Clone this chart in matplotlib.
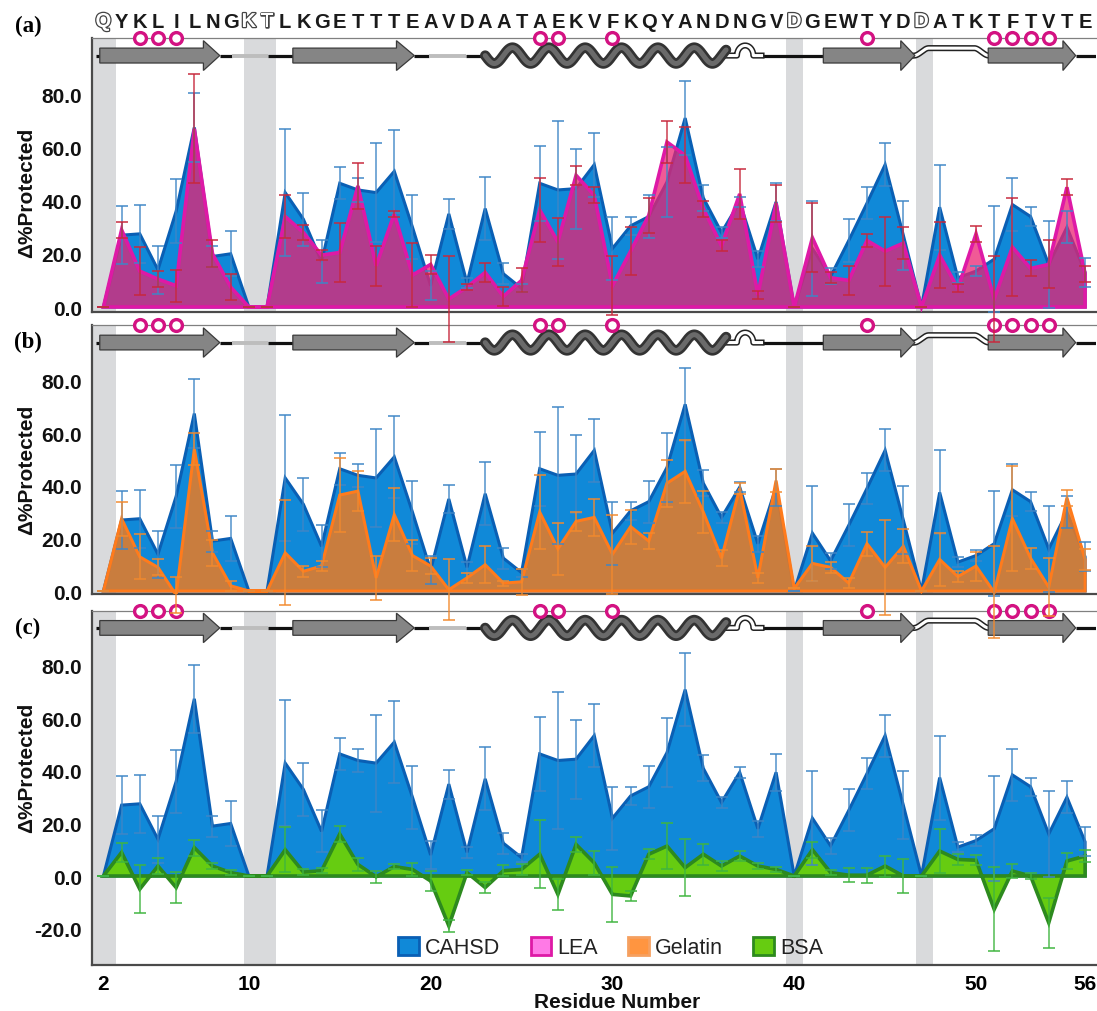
import numpy as np
import matplotlib
matplotlib.use("Agg")
import matplotlib.pyplot as plt
from matplotlib.patches import Polygon, Patch
import matplotlib.patheffects as pe

plt.rcParams['font.family'] = ['Liberation Sans', 'DejaVu Sans']

# residues 2..56
residues = np.arange(2, 57)
sequence = "QYKLILNGKTLKGETTTEAVDAATAEKVFKQYANDNGVDGEWTYDDATKTFTVTE"
hollow_residues = [2, 10, 11, 40, 47]
circle_residues = [4, 5, 6, 26, 27, 30, 44, 51, 52, 53, 54]
gray_bands = [(1.35, 2.7), (9.72, 11.5), (39.53, 40.5), (46.68, 47.63)]

cahsd = [0, 27, 27.5, 14, 36, 67.5, 19, 20, 0, 0,
         43, 33, 17, 46.5, 44, 43, 51, 30, 8, 35,
         9, 37, 12.5, 7, 46.5, 44, 44.5, 53.5, 22, 30.5,
         34, 47, 71, 41, 28, 39.5, 18, 39.5, 0, 22,
         11.5, 25, 39, 53.5, 27, 0, 37.5, 11, 13.5, 18,
         38.5, 34, 16, 30, 13]
cahsd_err = [0, 11, 11, 9, 12, 13, 4, 8.5, 0, 0,
             24, 10, 8, 6, 4.5, 18.5, 15.5, 12, 5.5, 5.5,
             2, 12, 4, 1.5, 14, 26, 15, 12, 12, 3.5,
             8, 13, 14, 5, 2, 2, 3, 7, 0, 18,
             3, 8, 6, 8, 13, 0, 16, 2, 2, 20,
             10, 3.5, 16.5, 6, 5.5]

lea = [0, 29, 13.5, 10.5, 8, 67, 20, 7.5, 0, 0,
       34, 28, 19.5, 20.5, 45.5, 15.5, 35, 12, 16, 3,
       7.5, 13, 4, 10, 36.5, 24.5, 49.5, 42, 8, 21,
       34.5, 62, 57, 37, 23, 42.5, 4.5, 39, 0, 26,
       11, 10, 25, 21, 24, 0, 19.5, 7, 27.5, 3,
       22.5, 14.5, 16, 45, 12.5]
lea_err = [0, 3, 9, 3, 6, 20.5, 5, 5, 0, 0,
           8, 3, 2, 11, 8.5, 7.5, 1, 12, 3.5, 16,
           1, 3.5, 3.5, 4.5, 12, 9, 3.5, 3, 11, 9,
           6.5, 8, 10.5, 3, 2, 9.5, 1.5, 7, 0, 13,
           2, 5.5, 2.5, 13, 6, 0, 12.5, 1.5, 3, 16,
           18.5, 3, 9, 3, 3]

gelatin = [0, 27.5, 13, 9, -1.5, 54, 14.5, 2, 0, 0,
           14.5, 7.5, 9.5, 36.5, 38, 5, 29, 13.5, 9.5, 0.5,
           5, 10, 3, 3.5, 30, 16, 26.5, 28, 14, 24.5,
           19, 41, 45.5, 30, 12.5, 39, 5, 42, 1, 10.5,
           9, 3, 18, 9, 17, 0, 12, 5.5, 9.5, -0.5,
           27.5, 12.5, 1.5, 35.5, 12]
gelatin_err = [0, 6.5, 8.5, 3, 7, 6, 5, 2, 0, 0,
               20, 2, 2, 14, 7.5, 8.5, 10, 6, 3, 11.5,
               2, 7, 1, 5, 14, 10, 3.5, 7, 15, 6.5,
               3, 9, 12, 8, 3, 2, 2, 4.5, 0, 6.5,
               2, 2, 4.5, 18, 6.5, 0, 10, 2, 5.5, 17.5,
               20, 4, 11, 3, 4]

bsa = [0, 9, -5, 3.8, -4.4, 10.8, 3.8, 1.3, 0, 0,
       10, 1.5, 2, 16, 4.4, -0.3, 3.6, 2.5, -1.9, -19,
       1.3, -4.4, 2, 2.5, 8.3, -7, 12, 5, -7, -7.6,
       8.3, 11.4, 3.2, 8.3, 3.8, 7.6, 3.8, 2.5, 0, 10,
       1.3, 0.3, 0.3, 3.8, 0, 0, 9.5, 6.3, 6, -12.7,
       1.9, 0, -17.8, 5.7, 7.6]
bsa_err = [0, 3.5, 9, 3, 6, 3, 1, 1, 0, 0,
           8.5, 1, 1, 3, 2.5, 2.2, 1, 2.5, 3.8, 2.3,
           1, 2, 2, 2, 13, 6, 3, 4.5, 10.5, 2,
           2, 8.7, 11, 4, 2, 2, 1, 1, 0, 3,
           1, 2.6, 2.8, 4, 6.6, 0, 8.3, 2, 2, 16,
           2.5, 1, 9.5, 3, 2.4]

# secondary structure (residue positions)
strands = [(1.8, 7.5, 8.4), (12.42, 18.12, 19.1), (41.6, 45.86, 46.64), (50.67, 54.78, 55.48)]
black_links = [(1.6, 1.8), (8.4, 9.08), (11.05, 12.42), (19.1, 19.9), (21.95, 23.0), (38.2, 41.6), (55.48, 57.5)]
gray_links = [(9.08, 11.05), (19.9, 21.95)]
helix = (23.0, 36.25)

XMIN, XMAX = 1.35, 56.6

def draw_structure(ax, ytop):
    c = 94.5
    for x0, x1 in black_links:
        ax.plot([x0, x1], [c, c], color='#111111', lw=2.3, solid_capstyle='butt', zorder=6)
    for x0, x1 in gray_links:
        ax.plot([x0, x1], [c, c], color='#bdbdbd', lw=2.8, solid_capstyle='butt', zorder=6)
    for x0, x1, tip in strands:
        pts = [(x0, c - 2.8), (x1, c - 2.8), (x1, c - 5.6), (tip, c),
               (x1, c + 5.6), (x1, c + 2.8), (x0, c + 2.8)]
        ax.add_patch(Polygon(pts, closed=True, fc='#858585', ec='#3a3a3a', lw=0.9, zorder=7))
    hx = np.linspace(helix[0], helix[1], 600)
    hy = c - 3.0 * np.sin(np.pi * (hx - helix[0]))
    ax.plot(hx, hy, color='#333333', lw=7.5, solid_capstyle='round', zorder=7)
    ax.plot(hx, hy, color='#6a6a6a', lw=3.6, solid_capstyle='round', zorder=7)
    # loop after helix with small bump
    lx = np.linspace(36.25, 38.2, 300)
    ly = c + 3.8 * np.sqrt(np.clip(1 - ((lx - 37.3) / 0.45) ** 2, 0, None))
    ax.plot(lx, ly, color='#222222', lw=4.4, zorder=6)
    ax.plot(lx, ly, color='white', lw=2.2, zorder=6)
    # arch loop between last two strands
    ax2x = np.linspace(46.6, 50.7, 300)
    s1 = np.clip((ax2x - 46.6) / 0.8, 0, 1)
    s2 = np.clip((ax2x - 49.9) / 0.8, 0, 1)
    ax2y = c + 2.8 * ((3 * s1**2 - 2 * s1**3) - (3 * s2**2 - 2 * s2**3))
    ax.plot(ax2x, ax2y, color='#222222', lw=4.4, zorder=6)
    ax.plot(ax2x, ax2y, color='white', lw=2.2, zorder=6)
    # circles on the top line
    ax.plot(circle_residues, [ytop] * len(circle_residues), 'o', ms=8.5, mfc='white',
            mec='#d31282', mew=2.4, clip_on=False, zorder=12)


def area(ax, vals, fc, ec, lw, z):
    xs = np.r_[residues[0], residues, residues[-1]]
    ys = np.r_[0, vals, 0]
    ax.fill(xs, ys, facecolor=fc, edgecolor=ec, lw=lw, zorder=z, joinstyle='miter')


def bars(ax, vals, errs, color, z):
    eb = ax.errorbar(residues, vals, yerr=errs, fmt='none', ecolor=color, elinewidth=1.1,
                     capsize=4.5, capthick=1.2, zorder=z, alpha=0.9)
    for child in eb.get_children():
        child.set_clip_on(False)


def setup(ax, ymin, ymax, yt):
    ax.set_xlim(XMIN, XMAX)
    ax.set_ylim(ymin, ymax)
    for x0, x1 in gray_bands:
        ax.axvspan(x0, x1, color='#d9dadc', lw=0, zorder=0.5)
    ax.spines['right'].set_visible(False)
    ax.spines['top'].set_color('#808080')
    ax.spines['top'].set_linewidth(0.9)
    for s in ['left', 'bottom']:
        ax.spines[s].set_color('#4a4a4a')
        ax.spines[s].set_linewidth(1.6)
    ax.set_yticks(yt)
    ax.set_yticklabels([f"{v:.1f}" for v in yt], fontsize=15, fontweight='bold', color='#111111')
    ax.tick_params(axis='y', length=0, pad=7)
    ax.set_xticks([])
    draw_structure(ax, ymax)


fig = plt.figure(figsize=(10.97, 10.12), dpi=100)
ax_a = fig.add_axes([0.0835, 0.6909, 0.9156, 0.2703], zorder=3)
ax_b = fig.add_axes([0.0835, 0.4124, 0.9156, 0.2650], zorder=2)
ax_c = fig.add_axes([0.0835, 0.0452, 0.9156, 0.3502], zorder=1)

blue_fc, blue_ec, blue_bar = '#1089d8', '#0a5fb4', '#3f86c6'

setup(ax_a, -1.8, 101, [0, 20, 40, 60, 80])
area(ax_a, cahsd, blue_fc, blue_ec, 2.2, 2)
area(ax_a, lea, (235/255, 34/255, 114/255, 0.745), '#de19a6', 2.6, 3)
bars(ax_a, cahsd, cahsd_err, blue_bar, 4)
bars(ax_a, lea, lea_err, '#c8283c', 5)

setup(ax_b, -1.0, 101, [0, 20, 40, 60, 80])
area(ax_b, cahsd, blue_fc, blue_ec, 2.2, 2)
area(ax_b, gelatin, (235/255, 123/255, 35/255, 0.85), '#ff7b1c', 2.2, 3)
bars(ax_b, cahsd, cahsd_err, blue_bar, 4)
bars(ax_b, gelatin, gelatin_err, '#f28a2e', 5)

setup(ax_c, -34, 101, [-20, 0, 20, 40, 60, 80])
area(ax_c, cahsd, blue_fc, blue_ec, 2.2, 2)
area(ax_c, bsa, '#66cc11', '#2d8a1e', 2.6, 3)
bars(ax_c, cahsd, cahsd_err, blue_bar, 4)
bars(ax_c, bsa, bsa_err, '#3fb53f', 5)
ax_c.set_xticks([2, 10, 20, 30, 40, 50, 56])
ax_c.set_xticklabels(['2', '10', '20', '30', '40', '50', '56'], fontsize=15, fontweight='bold')
ax_c.tick_params(axis='x', length=0, pad=6)

# sequence on top
for r, letter in zip(residues, sequence):
    if r in hollow_residues:
        ax_a.text(r, 107.3, letter, ha='center', va='center', fontsize=14.5, fontweight='bold',
                  color='white', clip_on=False,
                  path_effects=[pe.withStroke(linewidth=1.8, foreground='#444444')])
    else:
        ax_a.text(r, 107.3, letter, ha='center', va='center', fontsize=14.5, fontweight='bold',
                  color='#1a1a1a', clip_on=False)

# panel labels and axis labels
W, H = 1097, 1012
for lab, y in [('(a)', 26), ('(b)', 342), ('(c)', 628)]:
    fig.text(28 / W, 1 - y / H, lab, ha='center', va='center', fontsize=16.5,
             fontweight='bold', family='Liberation Serif')
for y in [193, 470, 768]:
    fig.text(27 / W, 1 - y / H, 'Δ%Protected', rotation=90, ha='center', va='center',
             fontsize=15, fontweight='bold', color='#111111')
fig.text(617 / W, 1 - 1003 / H, 'Residue Number', ha='center', va='center',
         fontsize=15, fontweight='bold', color='#111111')

handles = [Patch(facecolor=blue_fc, edgecolor=blue_ec, lw=2),
           Patch(facecolor='#ff7ae6', edgecolor='#de19a6', lw=2),
           Patch(facecolor='#ff9540', edgecolor='#f5a060', lw=2),
           Patch(facecolor='#66cc11', edgecolor='#2d8a1e', lw=2)]
leg = ax_c.legend(handles, ['CAHSD', 'LEA', 'Gelatin', 'BSA'], ncol=4, loc='center',
                  bbox_to_anchor=(0.517, 0.05), frameon=False, fontsize=15.5,
                  handlelength=0.95, handleheight=0.95, handletextpad=0.3,
                  columnspacing=1.4, borderaxespad=0)
for t in leg.get_texts():
    t.set_color('#222222')

fig.savefig('out.png', dpi=100)
